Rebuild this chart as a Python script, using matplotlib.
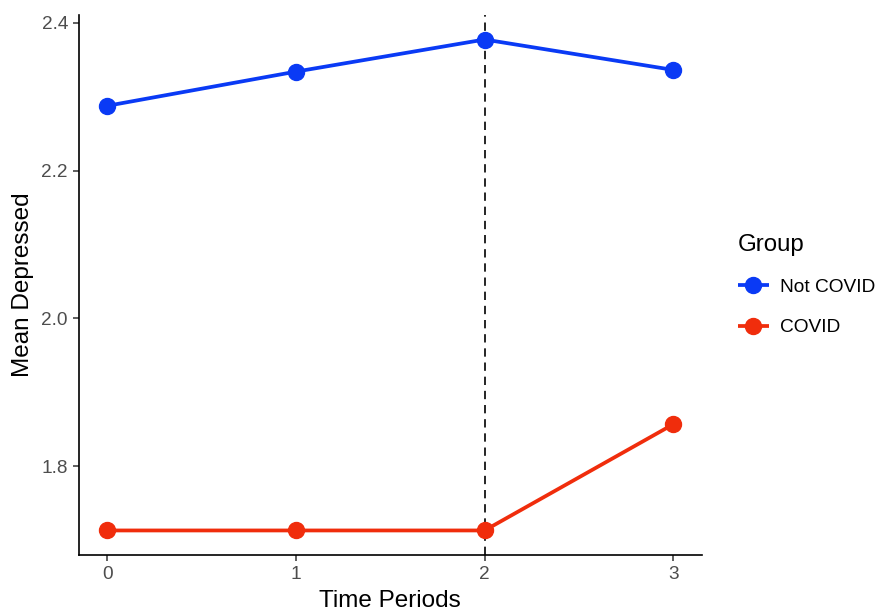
import matplotlib.pyplot as plt

# mean depressed scores by time period
periods = [0, 1, 2, 3]
not_covid = [2.2875, 2.3337, 2.3771, 2.336]
covid = [1.7135, 1.7135, 1.7135, 1.857]
groups = ['Not COVID', 'COVID']
colors = ['#0a3af5', '#f02d0c']

plt.rcParams['font.family'] = ['Liberation Sans', 'DejaVu Sans']

fig = plt.figure(figsize=(8.88, 6.13), dpi=100)
ax = fig.add_axes([0.089, 0.0946, 0.701, 0.881])

for vals, name, c in zip([not_covid, covid], groups, colors):
    ax.plot(periods, vals, color=c, lw=2.7, marker='o', ms=11.5,
            label=name, solid_capstyle='butt')

ax.axvline(2, color='black', ls=(0, (5, 3.5)), lw=1.2, zorder=0)

# ggplot style expansion
lo, hi = min(covid + not_covid), max(covid + not_covid)
pad = (hi - lo) * 0.05
ax.set_ylim(lo - pad, hi + pad)
ax.set_xlim(-0.15, 3.15)
ax.set_xticks(periods)
ax.set_yticks([1.8, 2.0, 2.2, 2.4])
ax.set_yticklabels(['1.8', '2.0', '2.2', '2.4'])

for s in ['top', 'right']:
    ax.spines[s].set_visible(False)
for s in ['left', 'bottom']:
    ax.spines[s].set_linewidth(1.2)
ax.tick_params(colors='#333333', labelcolor='#4d4d4d', labelsize=13.7,
               length=4, width=1.1, pad=4)

ax.set_xlabel('Time Periods', fontsize=17.5, labelpad=5)
ax.set_ylabel('Mean Depressed', fontsize=17.5, labelpad=5)

leg = fig.legend(loc='upper left', bbox_to_anchor=(0.8115, 0.647),
                 title='Group', frameon=False, fontsize=13.8,
                 title_fontsize=17.3, handlelength=1.6, labelspacing=1.2,
                 handletextpad=0.6)
leg._legend_box.align = 'left'

fig.savefig('out.png', dpi=100)
